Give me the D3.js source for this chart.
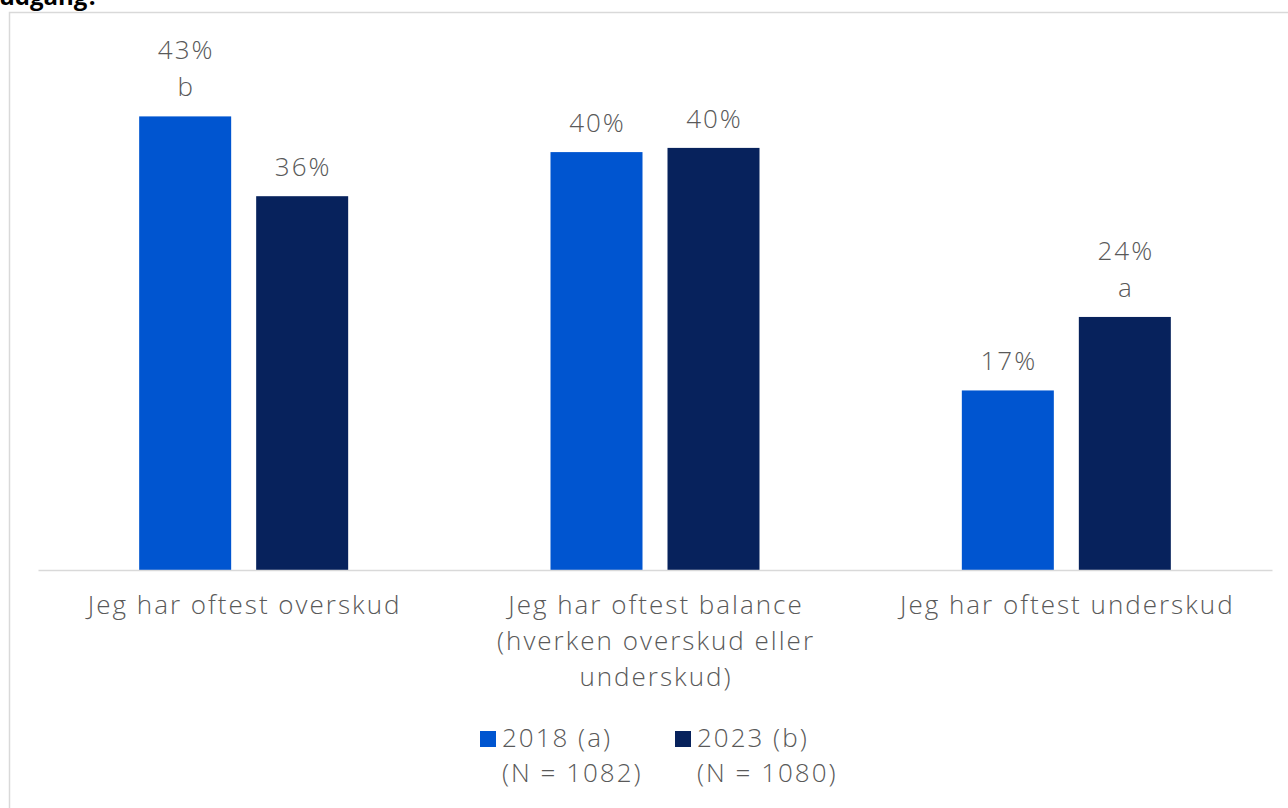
<!DOCTYPE html>
<html>
<head>
<meta charset="utf-8">
<script src="https://cdn.jsdelivr.net/npm/d3@7"></script>
<style>
  body { margin: 0; background: #fff; }
  text { font-family: "Open Sans", Lato, sans-serif; }
  .lbl { font-size: 26px; font-weight: 300; fill: #595959; letter-spacing: 2px; }
</style>
</head>
<body>
<script>
// data
let categories = [
    ["Jeg har oftest overskud"],
    ["Jeg har oftest balance", "(hverken overskud eller", "underskud)"],
    ["Jeg har oftest underskud"]
]
let seriesNames = ["2018 (a)", "2023 (b)"]
let seriesN = ["(N = 1082)", "(N = 1080)"]
let values2018 = [43.2, 39.8, 17.1]
let values2023 = [35.6, 40.2, 24.1]
let sigLetters2018 = ["b", "", ""]
let sigLetters2023 = ["", "", "a"]
let colors = ["#0055D0", "#07225C"]

let width = 1288;
let height = 808;

let svg = d3.select("body").append("svg")
    .attr("width", width)
    .attr("height", height)

// chart frame (only top and left edges are visible)
svg.append("path")
    .attr("d", "M9.5,808 L9.5,12.5 L1288,12.5")
    .attr("fill", "none")
    .attr("stroke", "#d9d9d9")
    .attr("stroke-width", 1.5)

// question text, cut off at the top like in the source
svg.append("text")
    .attr("x", -1)
    .attr("y", 5)
    .style("font-size", "24px")
    .style("font-weight", "bold")
    .attr("fill", "#000")
    .text("udgang?")

const plotLeft = 38, plotRight = 1272, baseY = 570;

let xScale = d3.scaleBand()
    .domain(d3.range(categories.length))
    .range([plotLeft, plotRight])

const yScale = d3.scaleLinear()
    .domain([0, 10])
    .range([baseY, baseY - 105])

const barW = 92, gap = 25;
let rows = []
categories.forEach((c, i) => {
    rows.push({ cat: i, s: 0, v: values2018[i], sig: sigLetters2018[i] })
    rows.push({ cat: i, s: 1, v: values2023[i], sig: sigLetters2023[i] })
})
const barX = d => xScale(d.cat) + xScale.bandwidth() / 2 + (d.s === 0 ? -(gap / 2 + barW) : gap / 2)

svg.selectAll("rect.bar")
    .data(rows)
    .enter()
    .append("rect")
    .attr("class", "bar")
    .attr("x", barX)
    .attr("y", d => yScale(d.v))
    .attr("width", barW)
    .attr("height", d => baseY - yScale(d.v))
    .attr("fill", d => colors[d.s])

// value labels (with significance letters)
rows.forEach(d => {
    let cx = barX(d) + barW / 2 + 1
    let top = yScale(d.v)
    let lines = d.sig ? [Math.round(d.v) + "%", d.sig] : [Math.round(d.v) + "%"]
    lines.forEach((t, k) => {
        svg.append("text")
            .attr("class", "lbl")
            .attr("x", cx)
            .attr("y", top - 20 - (lines.length - 1 - k) * 37)
            .attr("text-anchor", "middle")
            .text(t)
    })
})

// axis line
let xAxis = d3.axisBottom(xScale).tickSize(0).tickFormat("")
let gx = svg.append("g")
    .attr("transform", "translate(0," + baseY + ")")
    .call(xAxis)
gx.select(".domain").attr("stroke", "#d9d9d9").attr("stroke-width", 1.5)

// category labels
categories.forEach((lines, i) => {
    lines.forEach((t, k) => {
        svg.append("text")
            .attr("class", "lbl")
            .attr("x", xScale(i) + xScale.bandwidth() / 2 + 1)
            .attr("y", 614 + k * 36)
            .attr("text-anchor", "middle")
            .text(t)
    })
})

// legend
const legendX = [480, 675];
seriesNames.forEach((name, i) => {
    svg.append("rect")
        .attr("x", legendX[i])
        .attr("y", 731)
        .attr("width", 16)
        .attr("height", 16)
        .attr("fill", colors[i])
    svg.append("text")
        .attr("class", "lbl")
        .attr("x", legendX[i] + 22)
        .attr("y", 747)
        .text(name)
    svg.append("text")
        .attr("class", "lbl")
        .attr("x", legendX[i] + 22)
        .attr("y", 782)
        .text(seriesN[i])
})
</script>
</body>
</html>
